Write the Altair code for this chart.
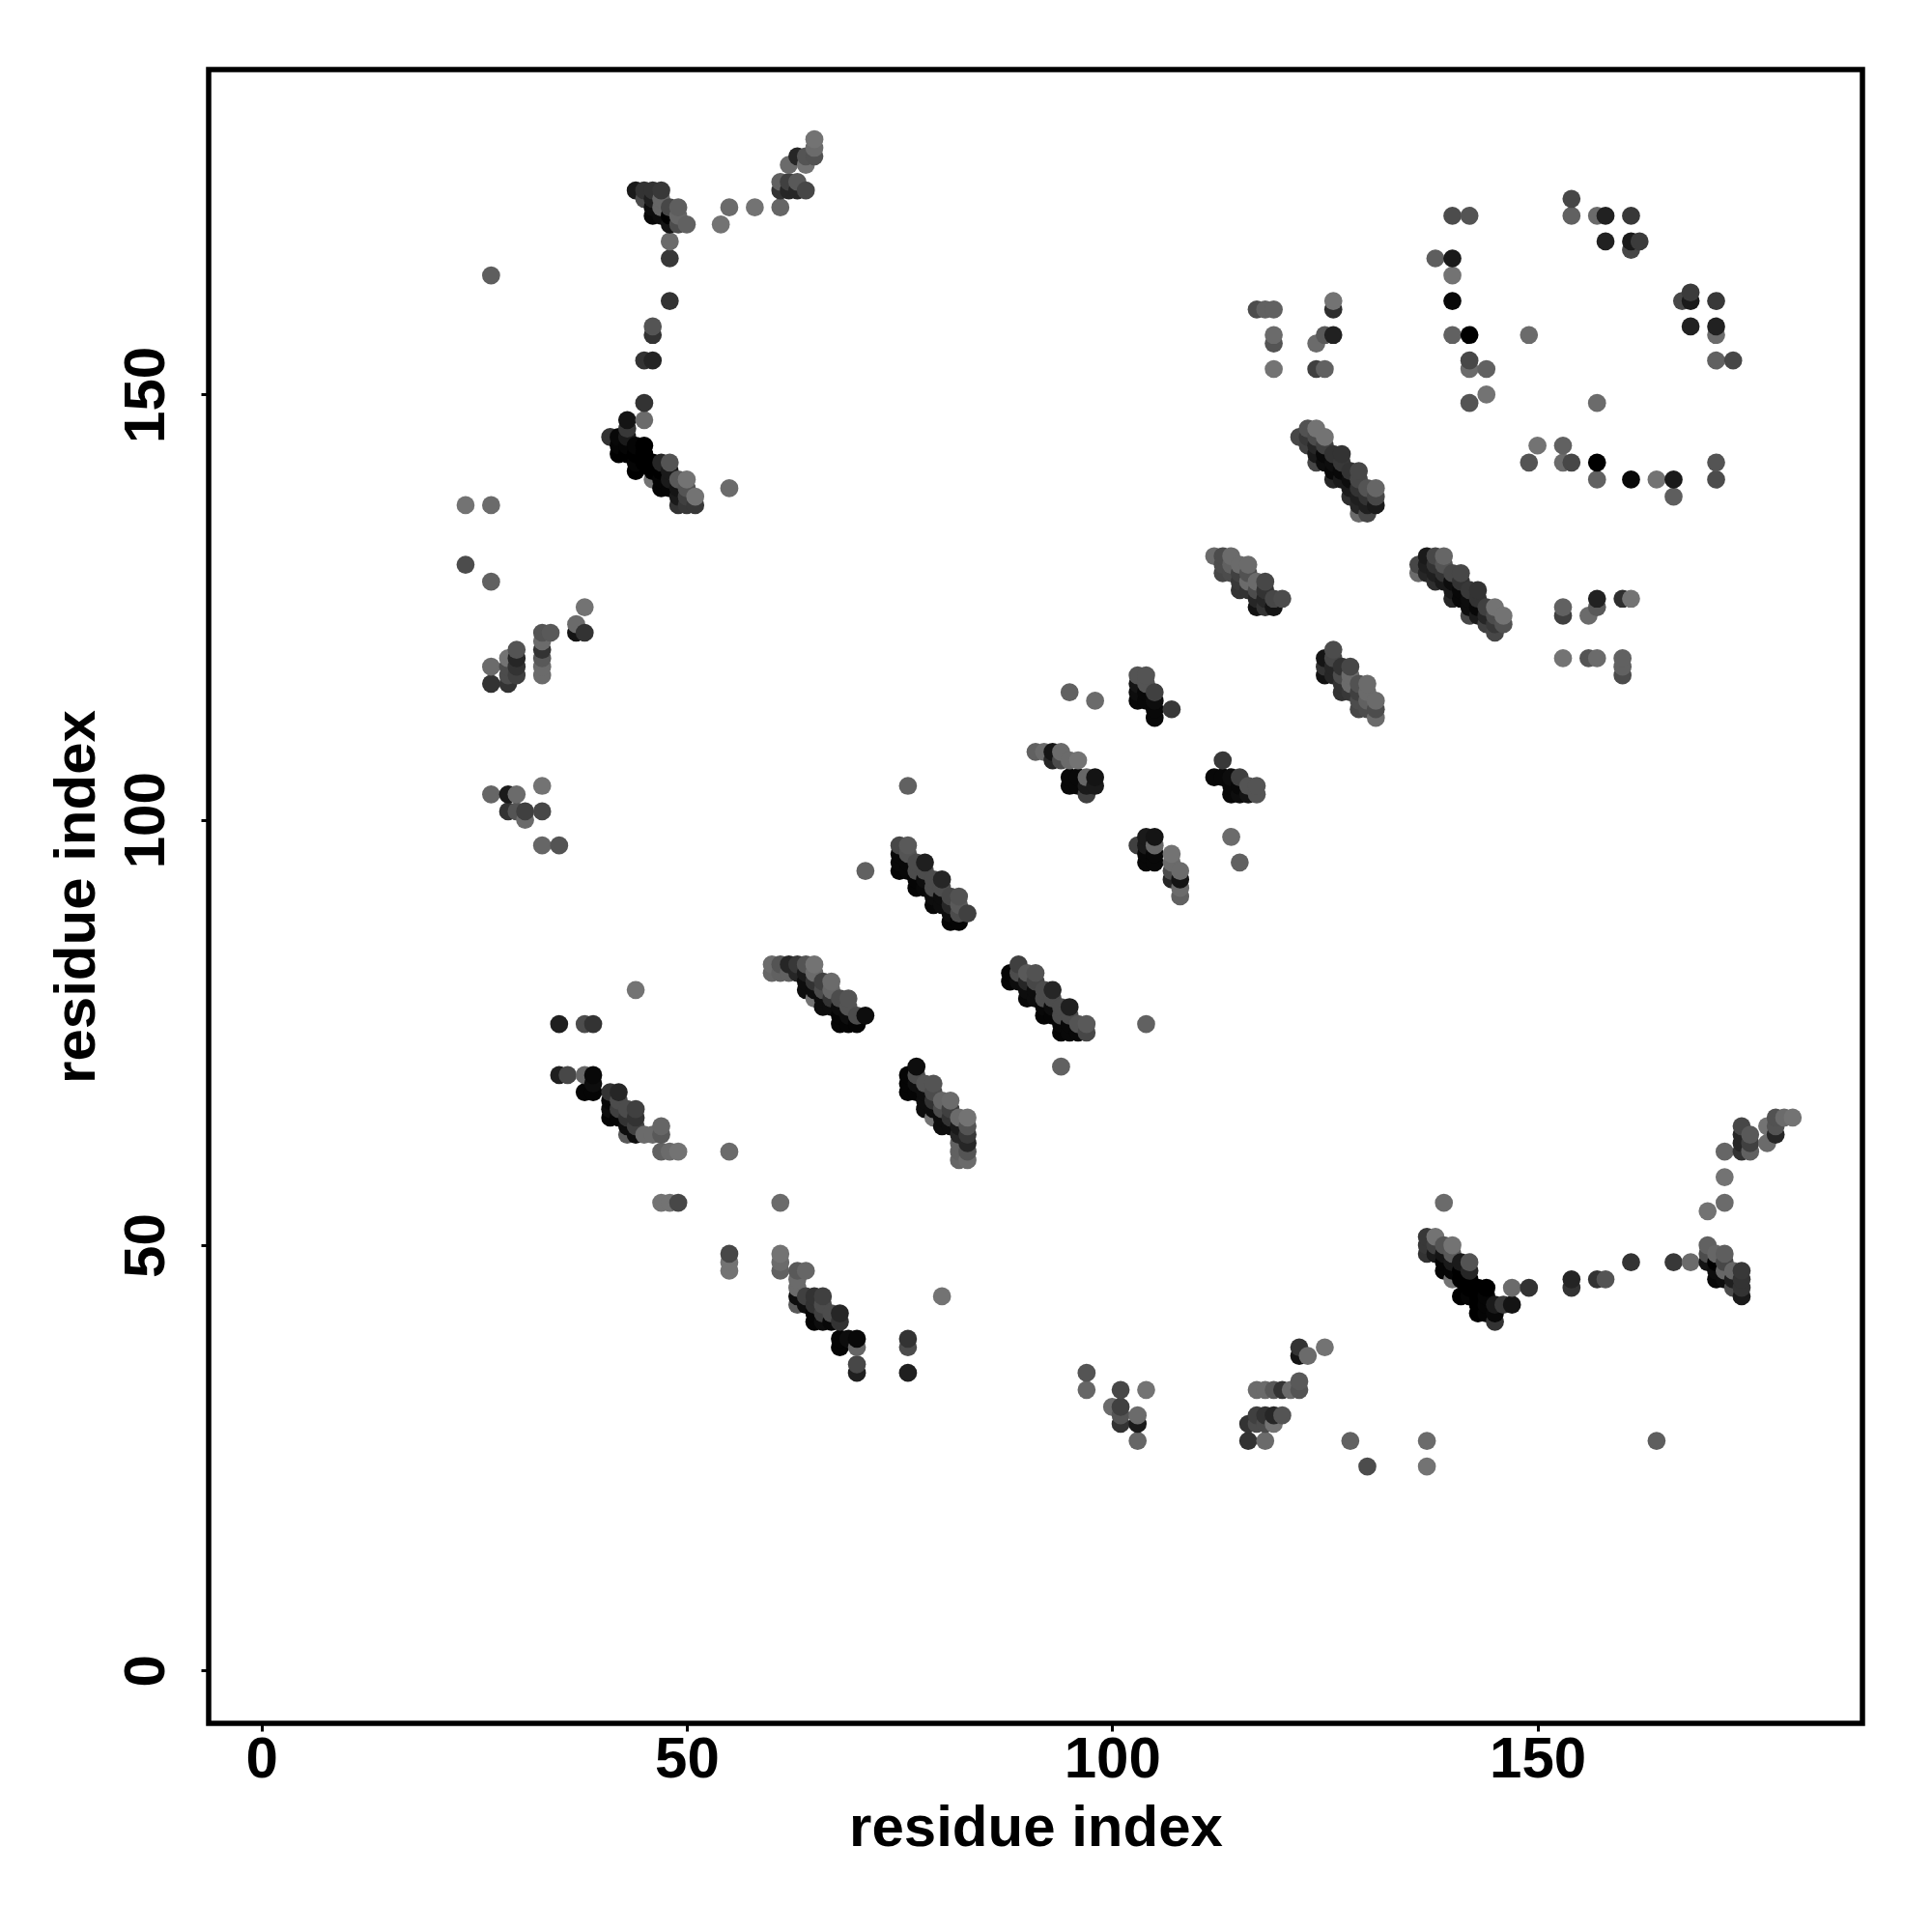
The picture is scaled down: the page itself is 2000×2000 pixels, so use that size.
import altair as alt
import pandas as pd

# upper-triangle contacts (residue i < residue j), gray level 0=black
contact_i = [24,27,24,27,38,37,37,38,33,34,33,33,33,33,33,30,30,30,30,29,29,29,29,27,27,33,27,29,30,29,30,31,31,33,33,35,27,
 44,45,46,47,45,46,47,46,47,48,49,46,47,48,49,48,49,50,
 48,48,48,46,46,45,46,45,45,55,54,58,61,
 65,65,65,64,63,62,64,61,62,63,61,62,63,64,
 41,43,43,42,43,42,43,44,45,42,43,44,45,44,45,46,47,48,44,46,47,48,46,47,48,49,50,47,48,49,50,49,50,51,49,50,51,55,
 35,38,39,35,36,38,39,39,38,39,41,42,41,42,41,42,43,44,41,42,43,44,43,44,43,44,45,46,47,47,47,48,49,55,47,48,49,44,
 60,61,62,63,64,65,60,61,62,63,64,65,64,65,66,67,64,65,66,67,65,66,67,68,69,66,67,68,69,68,69,70,71,68,69,70,
 75,76,75,76,75,76,77,78,75,76,77,78,77,78,79,80,77,78,79,80,79,80,81,82,79,80,81,82,81,82,83,81,82,71,76,
 91,92,93,94,93,94,95,96,95,96,97,98,95,96,97,98,97,95,98,
 103,104,103,104,103,104,105,103,104,105,105,107,105,
 112,113,114,113,114,115,116,113,114,115,116,115,116,117,118,115,116,117,118,117,118,119,120,117,118,119,
 130,129,131,131,131,130,130,129,129,128,130,129,129,129,128,128,127,126,127,127,127,126,126,124,125,125,125,125,124,124,124,123,123,122,123,124,126,128,
 117,118,119,119,119,119,124,125,126,126,126,124,125,
 140,142,138,140,140,140,140,142,149,142,142,144,144,142,154,154,157,158,161,158,161,162,161,
 144,153,149,153,157,157,161,166,166,171,171]

contact_j = [137,137,130,128,125,123,122,122,122,122,121,120,119,118,117,120,119,118,117,119,118,117,116,118,116,104,103,103,103,101,101,101,100,101,97,97,164,
 174,174,174,174,173,173,173,172,172,172,172,171,171,171,171,170,170,170,
 168,166,161,158,157,154,154,149,147,172,170,172,172,
 180,179,178,178,178,177,177,175,175,175,174,174,174,174,
 145,147,146,144,144,143,143,143,143,145,145,144,144,142,142,142,142,142,141,141,141,141,140,140,140,140,140,139,139,139,139,138,138,138,137,137,137,139,
 76,76,76,70,70,70,70,69,68,68,68,68,67,67,66,66,66,66,65,65,65,65,64,64,63,63,63,63,64,63,61,61,61,61,55,55,55,80,
 83,83,83,83,83,83,82,82,82,82,82,82,81,81,81,81,80,80,80,80,79,79,79,79,79,78,78,78,78,77,77,77,77,76,76,76,
 97,97,96,96,95,95,95,95,94,94,94,94,93,93,93,93,92,92,92,92,91,91,91,91,90,90,90,90,89,89,89,88,88,94,104,
 108,108,108,108,107,107,107,107,105,105,105,105,104,104,104,104,103,115,114,
 117,117,116,116,115,115,115,114,114,114,113,113,112,
 131,131,131,130,130,130,130,129,129,129,129,128,128,128,128,127,127,127,127,126,126,126,126,125,125,125,
 136,136,137,138,139,137,138,137,138,138,139,139,140,141,140,141,140,140,141,142,143,142,143,142,142,143,144,145,146,143,144,144,145,145,146,145,141,139,
 160,160,160,157,156,153,156,157,157,161,160,153,153,
 171,171,166,166,164,161,157,157,157,154,153,153,150,149,173,171,171,171,171,168,168,168,167,
 150,144,142,142,142,140,140,140,138,142,140]

contact_gray = [.45,.42,.3,.38,.45,.42,.08,.2,.33,.35,.42,.2,.35,.42,.42,.33,.15,.2,.25,.45,.3,.3,.2,.42,.2,.45,.4,.1,.42,.2,.33,.25,.42,.28,.4,.33,.37,
 .1,.2,.2,.22,.3,.12,.4,.05,.4,.28,.37,.03,.05,.0,.4,.08,.3,.38,
 .42,.22,.2,.33,.2,.2,.14,.2,.42,.42,.45,.45,.4,
 .45,.42,.32,.33,.15,.42,.45,.38,.25,.35,.2,.15,.15,.28,
 .2,.08,.22,.02,.02,.0,.0,.0,.0,.03,.1,.02,.0,.02,.0,.0,.15,.33,.0,.0,.0,.1,.45,.02,.1,.35,.45,.02,.02,.08,.33,.1,.25,.45,.2,.22,.22,.42,
 .12,.3,.2,.12,.28,.4,.03,.05,.02,.02,.2,.15,.03,.3,.05,.25,.3,.25,.02,.02,.2,.2,.05,.25,.35,.05,.42,.42,.4,.35,.38,.42,.45,.42,.45,.45,.28,.45,
 .42,.33,.15,.22,.33,.45,.4,.38,.38,.15,.1,.42,.05,.2,.25,.42,.05,.05,.3,.4,.45,.05,.2,.3,.33,.05,.05,.05,.33,.02,.05,.3,.05,.02,.02,.02,
 .28,.35,.03,.33,.03,.03,.3,.12,.02,.03,.3,.3,.02,.05,.3,.15,.02,.03,.3,.3,.05,.05,.28,.32,.03,.05,.15,.35,.05,.3,.25,.02,.02,.38,.38,
 .38,.42,.08,.42,.15,.3,.42,.45,.03,.03,.4,.08,.03,.03,.1,.1,.25,.38,.42,
 .33,.33,.08,.33,.05,.03,.25,.03,.03,.05,.03,.22,.03,
 .42,.3,.42,.3,.38,.42,.42,.28,.3,.25,.32,.22,.42,.42,.28,.2,.2,.3,.2,.15,.15,.28,.3,.07,.2,.08,
 .28,.42,.1,.28,.4,.12,.2,.15,.12,.18,.33,.2,.28,.28,.05,.2,.1,.15,.03,.22,.2,.05,.2,.28,.05,.03,.25,.45,.45,.1,.15,.25,.22,.28,.32,.3,.03,.1,
 .3,.38,.38,.42,.33,.45,.42,.35,.13,.45,.18,.25,.38,
 .33,.38,.4,.1,.45,.02,.38,.0,.42,.28,.4,.4,.45,.32,.28,.38,.42,.13,.22,.13,.1,.23,.28,
 .45,.38,.33,.42,.0,.38,.03,.1,.37,.33,.3]

assert len(contact_i) == len(contact_j) == len(contact_gray)

cells = {}
for a, b, g in zip(contact_i, contact_j, contact_gray):
    cells[(a, b)] = g
    cells[(b, a)] = g
rows = [{"x": k[0], "y": k[1], "shade": "#{0:02x}{0:02x}{0:02x}".format(round(v * 255))}
        for k, v in sorted(cells.items())]
df = pd.DataFrame(rows)

tick_values = [0, 50, 100, 150]
axis_domain = [-6.2, 188.2]
font = "Liberation Sans"

def make_axis(label_padding, title_padding, **kw):
    return alt.Axis(values=tick_values, grid=False, domain=False, ticks=True, tickSize=8, tickWidth=3,
                    tickColor="black", labelFont=font, labelFontSize=60, labelFontWeight="bold",
                    labelColor="black", labelPadding=label_padding, titleFont=font, titleFontSize=60,
                    titleFontWeight="bold", titleColor="black", titlePadding=title_padding,
                    labelOverlap=False, labelFlush=False, **kw)

chart = alt.Chart(df).mark_circle(size=350, opacity=1).encode(
    x=alt.X("x:Q", title="residue index", scale=alt.Scale(domain=axis_domain, nice=False, zero=False),
            axis=make_axis(0, 12)),
    y=alt.Y("y:Q", title="residue index", scale=alt.Scale(domain=axis_domain, nice=False, zero=False),
            axis=make_axis(26, 11, labelAngle=270, labelAlign="center", labelBaseline="bottom")),
    color=alt.Color("shade:N", scale=None),
).properties(
    width=1712, height=1712,
    autosize=alt.AutoSizeParams(type="none"),
    padding={"left": 208, "top": 64, "right": 60, "bottom": 200},
).configure_view(stroke="black", strokeWidth=5.5)

chart.save("out.html", embed_options={"renderer": "svg", "actions": False})
